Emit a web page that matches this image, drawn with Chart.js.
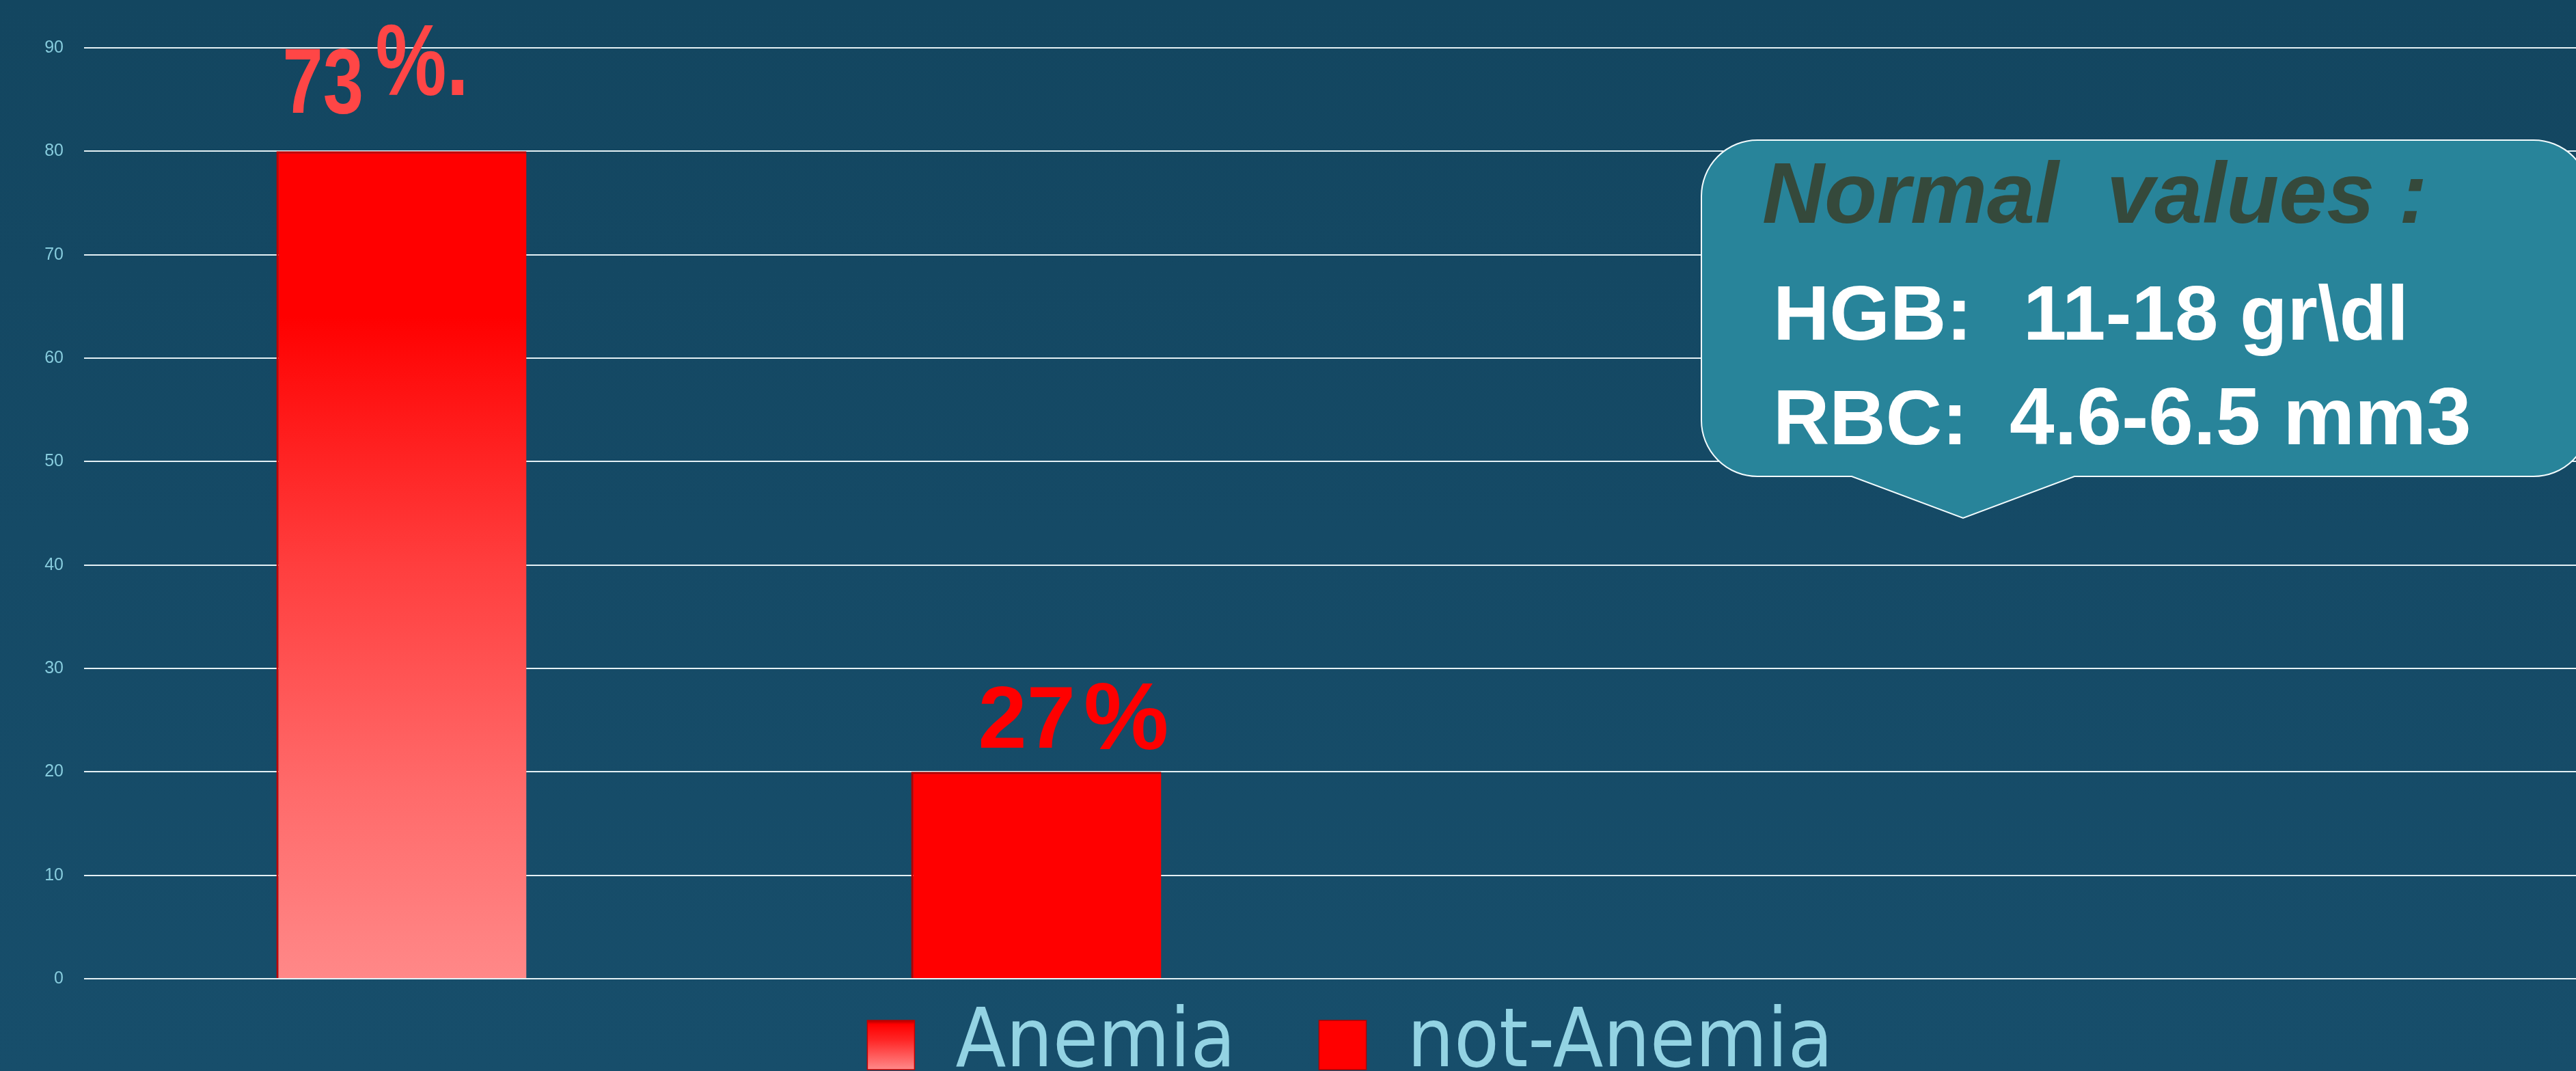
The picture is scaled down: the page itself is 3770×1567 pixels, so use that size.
<!DOCTYPE html>
<html>
<head>
<meta charset="utf-8">
<script src="https://cdn.jsdelivr.net/npm/chart.js@4.4.0/dist/chart.umd.min.js"></script>
<style>
  html, body { margin:0; padding:0; overflow:hidden; width:3770px; height:1567px;
    background: linear-gradient(180deg, #134660 0%, #154a66 50%, #174e6b 100%); }
  #wrap { position:absolute; left:0; top:0; width:3952px; }
  canvas { display:block; }
</style>
</head>
<body>
<div id="wrap"><canvas id="c" width="3952" height="1691"></canvas></div>
<script>
// ---- data ----
const categories = ['Anemia', 'not-Anemia', '', ''];
const seriesNames = ['Anemia', 'not-Anemia'];
const anemiaValues = [80, null, null, null];
const notAnemiaValues = [null, 20, null, null];
const anemiaLabels = ['73%.', null, null, null];
const notAnemiaLabels = [null, '27%', null, null];
const yTickValues = [0, 10, 20, 30, 40, 50, 60, 70, 80, 90];
const calloutTitle = 'Normal  values :';
const calloutRows = [['HGB:', '11-18 gr\\dl'], ['RBC:', '4.6-6.5 mm3']];

// ---- font helpers ----
function hasFont(name) {
  const c = document.createElement('canvas').getContext('2d');
  const t = 'AnemiamWil 0123';
  return ['monospace', 'serif'].some(b => {
    c.font = '40px ' + b; const w0 = c.measureText(t).width;
    c.font = '40px "' + name + '", ' + b; return c.measureText(t).width !== w0;
  });
}
let legendFamily = '"Liberation Sans"', legendSize = 112;
if (hasFont('Liberation Sans Narrow')) { legendFamily = '"Liberation Sans Narrow"'; legendSize = 138; }
else if (hasFont('DejaVu Sans Condensed')) { legendFamily = '"DejaVu Sans Condensed"'; legendSize = 120; }

// legend geometry: horizontal gap between items, desired text centre, plot bottom
const legendGap = 122;
const plotBottom = 1432;
const legendCenterY = 1529;
const canvasH = plotBottom + legendSize + legendGap + 10;
const legendShift = plotBottom - (legendCenterY - legendGap - legendSize / 2);
const cv = document.getElementById('c');
cv.height = canvasH;

const labelSets = [anemiaLabels, notAnemiaLabels];
const labelStyles = [
  { color:'#ff4646', numFont:'bold 135px "Liberation Sans"', sufFont:'bold 148px "Liberation Sans"', sx:0.79, dx:-174, dy:-56, sufGap:22, sufDy:-26 },
  { color:'#ff0000', numFont:'bold 128px "Liberation Sans"', sufFont:'bold 140px "Liberation Sans"', sx:1, dx:-85, dy:-35, sufGap:12, sufDy:2 }
];

function anemiaFill(ctx) {
  const chart = ctx.chart;
  if (!chart.chartArea || ctx.type !== 'data' || ctx.raw == null) return '#ff2a2a';
  const ys = chart.scales.y;
  const top = ys.getPixelForValue(ctx.raw), bot = ys.getPixelForValue(0);
  const g = chart.ctx.createLinearGradient(0, top, 0, bot);
  g.addColorStop(0, '#ff0000');
  g.addColorStop(0.2, '#ff0000');
  g.addColorStop(0.5, '#ff3e3e');
  g.addColorStop(0.77, '#ff6a6a');
  g.addColorStop(1, '#ff8888');
  return g;
}

const legendShiftPlugin = {
  id: 'legendShift',
  afterLayout(chart) {
    const lg = chart.legend;
    if (!lg) return;
    lg.top -= legendShift;
    lg.bottom -= legendShift;
  }
};

const legendGradientPlugin = {
  id: 'legendGradient',
  beforeDraw(chart) {
    const lg = chart.legend;
    if (!lg || !lg.legendItems || !lg.legendHitBoxes.length) return;
    const lo = lg.options.labels;
    const fs = lo.font.size, bh = lo.boxHeight;
    const hb = lg.legendHitBoxes[0];
    const top = hb.top + Math.max((fs - bh) / 2, 0);
    const g = chart.ctx.createLinearGradient(0, top, 0, top + bh);
    g.addColorStop(0, '#b00000');
    g.addColorStop(0.08, '#ff0000');
    g.addColorStop(0.4, '#ff2626');
    g.addColorStop(1, '#ff8a8a');
    lg.legendItems[0].fillStyle = g;
  }
};

const valueLabelPlugin = {
  id: 'valueLabels',
  afterDatasetsDraw(chart) {
    const ctx = chart.ctx;
    chart.data.datasets.forEach((ds, di) => {
      const meta = chart.getDatasetMeta(di);
      meta.data.forEach((el, i) => {
        const txt = labelSets[di][i];
        if (!txt || ds.data[i] == null) return;
        const m = txt.match(/^([0-9]+)(.*)$/);
        const st = labelStyles[di];
        ctx.save();
        ctx.fillStyle = st.color;
        ctx.textBaseline = 'alphabetic';
        ctx.textAlign = 'left';
        ctx.translate(el.x + st.dx, el.y + st.dy);
        ctx.scale(st.sx, 1);
        ctx.font = st.numFont;
        ctx.fillText(m[1], 0, 0);
        const w = ctx.measureText(m[1]).width;
        ctx.font = st.sufFont;
        ctx.fillText(m[2], w + st.sufGap, st.sufDy);
        ctx.restore();
      });
    });
  }
};

const calloutPlugin = {
  id: 'callout',
  afterDraw(chart) {
    const ctx = chart.ctx;
    const L = 2490, T = 205, R = 3790, B = 697, r = 82;
    const tailL = 2710, tailR = 3036, tipX = 2873, tipY = 758;
    ctx.save();
    ctx.beginPath();
    ctx.moveTo(L + r, T);
    ctx.lineTo(R - r, T);
    ctx.arcTo(R, T, R, T + r, r);
    ctx.lineTo(R, B - r);
    ctx.arcTo(R, B, R - r, B, r);
    ctx.lineTo(tailR, B);
    ctx.lineTo(tipX, tipY);
    ctx.lineTo(tailL, B);
    ctx.lineTo(L + r, B);
    ctx.arcTo(L, B, L, B - r, r);
    ctx.lineTo(L, T + r);
    ctx.arcTo(L, T, L + r, T, r);
    ctx.closePath();
    ctx.fillStyle = '#28849a';
    ctx.fill();
    ctx.lineWidth = 2;
    ctx.strokeStyle = '#f2fbfd';
    ctx.stroke();

    ctx.textBaseline = 'alphabetic';
    ctx.textAlign = 'left';
    ctx.fillStyle = '#35493b';
    ctx.font = 'italic bold 126px "Liberation Sans"';
    ctx.fillText(calloutTitle, 2579, 326);

    ctx.fillStyle = '#ffffff';
    ctx.font = 'bold 114px "Liberation Sans"';
    ctx.fillText(calloutRows[0][0], 2595, 497);
    ctx.fillText(calloutRows[0][1], 2961, 497);
    ctx.fillText(calloutRows[1][0], 2595, 650);
    ctx.font = 'bold 118px "Liberation Sans"';
    ctx.fillText(calloutRows[1][1], 2941, 650);
    ctx.restore();
  }
};

new Chart(cv, {
  type: 'bar',
  data: {
    labels: categories,
    datasets: [
      { label: seriesNames[0], data: anemiaValues, backgroundColor: anemiaFill,
        borderColor: '#c20000', borderWidth: { left: 3, top: 3, right: 0, bottom: 0 } },
      { label: seriesNames[1], data: notAnemiaValues, backgroundColor: '#ff0000',
        borderColor: '#b40000', borderWidth: { left: 3, top: 3, right: 0, bottom: 0 } }
    ]
  },
  options: {
    responsive: false,
    devicePixelRatio: 1,
    animation: false,
    events: [],
    skipNull: true,
    barPercentage: 0.394,
    categoryPercentage: 1,
    layout: { padding: { top: 70, left: 0, right: 0, bottom: 0 } },
    scales: {
      x: { type: 'category', display: false, offset: true },
      y: {
        position: 'left', min: 0, max: 90,
        afterBuildTicks: s => { s.ticks = yTickValues.map(v => ({ value: v })); },
        afterFit: s => { s.width = 123; },
        grid: { color: '#e4f1f5', lineWidth: 2, drawTicks: false },
        border: { display: false },
        ticks: { padding: 30, color: '#86cbdc', font: { family: '"Liberation Sans"', size: 25 } }
      },
      yRight: {
        type: 'linear', position: 'right', display: true,
        afterFit: s => { s.width = 113; },
        grid: { display: false, drawTicks: false },
        border: { display: false },
        ticks: { display: false }
      }
    },
    plugins: {
      tooltip: { enabled: false },
      title: { display: false },
      legend: {
        display: true,
        position: 'bottom',
        labels: {
          boxWidth: 69, boxHeight: 72, padding: legendGap,
          color: '#93d3e3',
          font: { family: legendFamily, size: legendSize, weight: 'normal' }
        }
      }
    }
  },
  plugins: [legendShiftPlugin, legendGradientPlugin, valueLabelPlugin, calloutPlugin]
});
</script>
</body>
</html>
